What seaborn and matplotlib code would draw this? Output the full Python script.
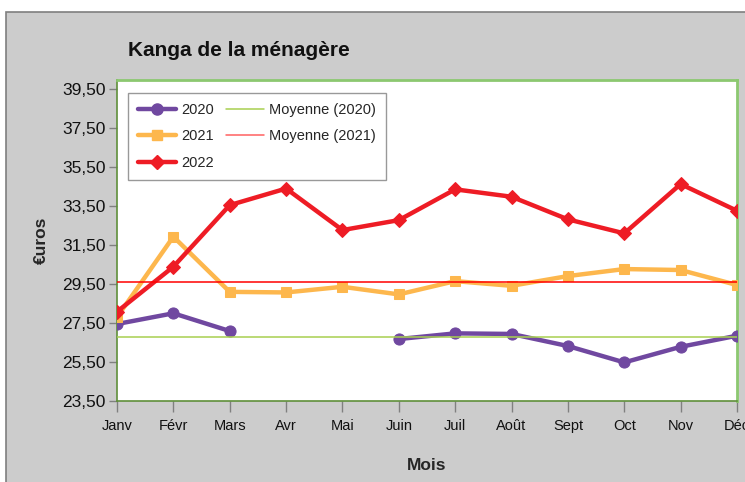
import numpy as np
import pandas as pd
import matplotlib
matplotlib.use("Agg")
import matplotlib.pyplot as plt
from matplotlib.lines import Line2D
from matplotlib.patches import Rectangle
import seaborn as sns

sns.set_theme(style="white")
plt.rcParams['font.family'] = ['Liberation Sans', 'DejaVu Sans']

mois = ["Janv", "Févr", "Mars", "Avr", "Mai", "Juin", "Juil", "Août", "Sept", "Oct", "Nov", "Déc"]
v2020 = [27.45, 28.00, 27.09, np.nan, np.nan, 26.68, 26.97, 26.94, 26.32, 25.48, 26.28, 26.85]
v2021 = [27.80, 31.93, 29.10, 29.07, 29.36, 28.97, 29.65, 29.41, 29.91, 30.27, 30.22, 29.45]
v2022 = [28.08, 30.39, 33.55, 34.40, 32.27, 32.78, 34.36, 33.98, 32.82, 32.10, 34.63, 33.26]
yticks = [23.5, 25.5, 27.5, 29.5, 31.5, 33.5, 35.5, 37.5, 39.5]

series = [
    ("2020", v2020, "#7048a0", "o", 8),
    ("2021", v2021, "#fdb74d", "s", 7.5),
    ("2022", v2022, "#ee1c25", "D", 7),
]
mean2020 = np.nanmean(v2020)
mean2021 = np.nanmean(v2021)

fig = plt.figure(figsize=(7.45, 4.82), dpi=100, facecolor="white")
fig.patches.append(Rectangle((6 / 745, -0.1), 1.2, 1 - 12 / 482 + 0.1,
                             transform=fig.transFigure, facecolor="#cccccc",
                             edgecolor="#7f7f7f", linewidth=1.2, zorder=-10))
ax = fig.add_axes([117 / 745, 1 - 401 / 482, 620 / 745, 321 / 482])
ax.set_facecolor("white")

x = np.arange(len(mois))
handles = []
for z, (name, vals, col, mk, ms) in enumerate(series):
    arr = np.array(vals, dtype=float)
    ok = ~np.isnan(arr)
    # split into contiguous segments
    seg_id = np.cumsum(~ok)
    for sid in np.unique(seg_id[ok]):
        m = ok & (seg_id == sid)
        df = pd.DataFrame({"x": x[m], "y": arr[m]})
        sns.lineplot(data=df, x="x", y="y", ax=ax, color=col, linewidth=3.2,
                     marker=mk, markersize=ms, markeredgecolor=col,
                     zorder=3 + z, legend=False)
    handles.append(Line2D([], [], color=col, linewidth=3.2, marker=mk,
                          markersize=ms, markeredgecolor=col, label=name))

ax.axhline(mean2020, color="#a8d050", linewidth=1.1, zorder=7)
ax.axhline(mean2021, color="#ff0000", linewidth=1.1, zorder=7)
handles.append(Line2D([], [], color="#a8d050", linewidth=1.1, label="Moyenne (2020)"))
handles.append(Line2D([], [], color="#ff6060", linewidth=1.1, label="Moyenne (2021)"))

ax.set_xlim(0, len(mois) - 1)
ax.set_ylim(23.5, 39.97)
ax.set_xticks(x)
ax.set_xticklabels(mois)
ax.set_yticks(yticks)
ax.set_yticklabels([f"{v:.2f}".replace(".", ",") for v in yticks])
ax.tick_params(axis="y", direction="out", length=6, width=1, color="#808080",
               labelsize=12.5, pad=2, left=True, labelcolor="#111111")
ax.tick_params(axis="x", direction="out", length=8, width=1, color="#808080",
               labelsize=10.5, pad=5, bottom=True, labelcolor="#111111")

for s in ["left", "bottom"]:
    ax.spines[s].set_color("#5f8f3a")
    ax.spines[s].set_linewidth(1.2)
for s in ["top", "right"]:
    ax.spines[s].set_color("#8cc870")
    ax.spines[s].set_linewidth(2)

ax.set_xlabel("Mois", fontsize=12.5, fontweight="bold", labelpad=18)
ax.set_ylabel("€uros", fontsize=12.5, fontweight="bold", labelpad=10)

fig.text(128 / 745, 1 - 50 / 482, "Kanga de la ménagère", fontsize=15,
         fontweight="bold", ha="left", va="center", color="#111111")

leg = ax.legend(handles=handles, loc="upper left", ncol=2,
                bbox_to_anchor=((128 - 117) / 620, 1 - (92.5 - 80) / 321),
                borderaxespad=0, frameon=True, fancybox=False, fontsize=10.5,
                handlelength=2.6, handletextpad=0.35, columnspacing=0.8,
                labelspacing=0.86, borderpad=0.7)
leg.get_frame().set_edgecolor("#808080")
leg.get_frame().set_linewidth(1)
leg.get_frame().set_facecolor("white")
leg.set_zorder(10)

fig.savefig("out.png", dpi=100, facecolor="white")
